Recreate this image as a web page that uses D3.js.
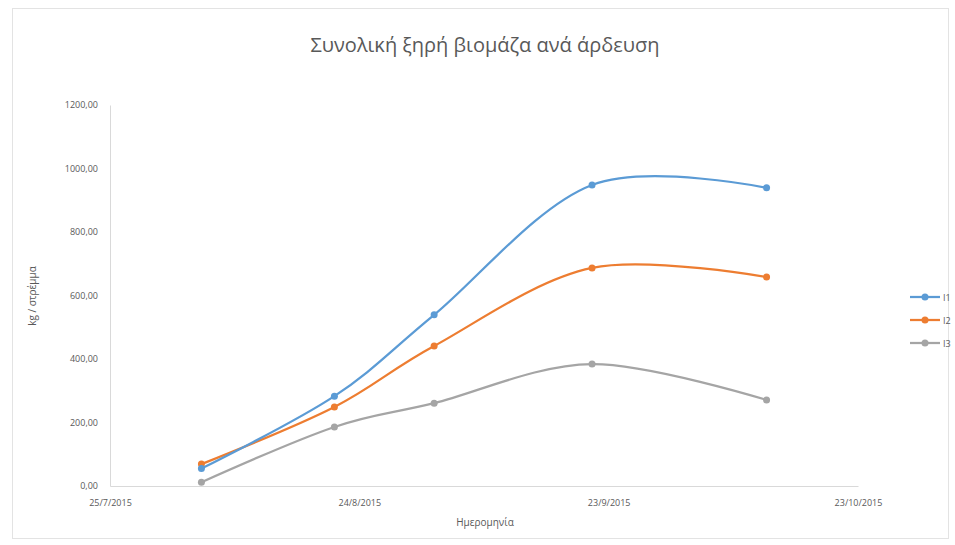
<!DOCTYPE html>
<html><head><meta charset="utf-8">
<script src="https://cdn.jsdelivr.net/npm/d3@7"></script>
<style>body{margin:0;background:#fff}svg{display:block}</style>
</head><body>
<svg id="c" width="955" height="545"></svg>
<script>
const dates = ["2015-08-05","2015-08-21","2015-09-02","2015-09-21","2015-10-12"];
const seriesNames = ["Ι1","Ι2","Ι3"];
const i1 = [55, 283, 539, 948, 939];
const i2 = [69, 249, 441, 687, 658];
const i3 = [12, 186, 261, 384, 271];
const colors = ["#5B9BD5","#ED7D31","#A5A5A5"];
const xTickLabels = ["25/7/2015","24/8/2015","23/9/2015","23/10/2015"];
const yTicks = [0,200,400,600,800,1000,1200];
const title = "Συνολική ξηρή βιομάζα ανά άρδευση";
const xTitle = "Ημερομηνία";
const yTitle = "kg / στρέμμα";

const parse = d3.timeParse("%Y-%m-%d");
const parseTick = d3.timeParse("%d/%m/%Y");
const svg = d3.select("#c");
const font = "'Open Sans', 'Noto Sans', sans-serif";
const txt = "#595959";

svg.append("rect").attr("x",12.5).attr("y",8.5).attr("width",936).attr("height",530)
  .attr("fill","none").attr("stroke","#e3e3e3");

const x = d3.scaleTime().domain([parseTick(xTickLabels[0]), parseTick(xTickLabels[3])]).range([110, 858]);
const y = d3.scaleLinear().domain([0,1200]).range([486,105]);

svg.append("text").attr("x",485).attr("y",52).attr("text-anchor","middle")
  .attr("font-family",font).attr("font-size",20).attr("fill",txt).text(title);

// axes
const yAxis = d3.axisLeft(y).tickValues(yTicks).tickFormat(d => d3.format(".2f")(d).replace(".",",")).tickSize(0).tickPadding(12);
const gy = svg.append("g").attr("transform","translate(110,0)").call(yAxis);
gy.select(".domain").attr("stroke","#d9d9d9");
gy.selectAll("text").attr("font-family",font).attr("font-size",9).attr("fill",txt);

const xAxis = d3.axisBottom(x).tickValues(xTickLabels.map(parseTick)).tickFormat((d,i)=>xTickLabels[i]).tickSize(0).tickPadding(14);
const gx = svg.append("g").attr("transform","translate(0,486)").call(xAxis);
gx.select(".domain").attr("stroke","#d9d9d9");
gx.selectAll("text").attr("font-family",font).attr("font-size",9).attr("fill",txt);

svg.append("text").attr("x",485).attr("y",526).attr("text-anchor","middle")
  .attr("font-family",font).attr("font-size",10).attr("fill",txt).text(xTitle);
svg.append("text").attr("transform","translate(36,296) rotate(-90)").attr("text-anchor","middle")
  .attr("font-family",font).attr("font-size",10).attr("fill",txt).text(yTitle);

const allSeries = [i1,i2,i3];
const line = d3.line().x(d=>x(d.date)).y(d=>y(d.v)).curve(d3.curveCatmullRom.alpha(0));
allSeries.slice().reverse().forEach((vals, ri) => {
  const si = allSeries.length-1-ri;
  const pts = vals.map((v,i)=>({date:parse(dates[i]), v}));
  svg.append("path").datum(pts).attr("d",line).attr("fill","none")
    .attr("stroke",colors[si]).attr("stroke-width",2.25);
  svg.selectAll(null).data(pts).enter().append("circle")
    .attr("cx",d=>x(d.date)).attr("cy",d=>y(d.v)).attr("r",3.5).attr("fill",colors[si]);
});

// legend
const legY = [297, 320, 343];
seriesNames.forEach((n,i)=>{
  svg.append("line").attr("x1",910).attr("x2",940).attr("y1",legY[i]).attr("y2",legY[i])
    .attr("stroke",colors[i]).attr("stroke-width",2.25);
  svg.append("circle").attr("cx",925).attr("cy",legY[i]).attr("r",3.5).attr("fill",colors[i]);
  svg.append("text").attr("x",943).attr("y",legY[i]+3.5).attr("font-family",font)
    .attr("font-size",9).attr("fill",txt).text(n);
});
</script>
</body></html>
